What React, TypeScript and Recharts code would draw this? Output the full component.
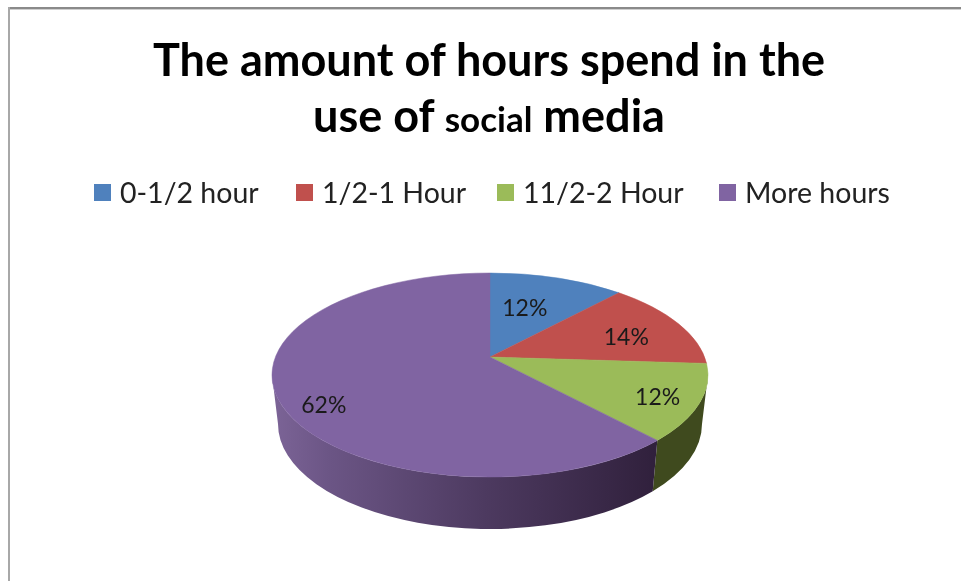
import { Legend, Pie, PieChart } from "recharts";

const categories = ["0-1/2 hour", "1/2-1 Hour", "11/2-2 Hour", "More hours"];
const shares = [12, 14, 12, 62];
const colors = ["#4f81bd", "#c0504d", "#9bbb59", "#8064a2"];
const wallColors = ["#2f4a6e", "#6f2e2c", "#3f4a1e", "url(#purpleWall)"];
// how far along the ray to the rim each label sits (x, y)
const labelReach = [
  [0.52, 0.63],
  [0.73, 0.6],
  [0.8, 0.85],
  [0.78, 1.18],
];
const legendLeft = [94, 296, 497, 719];

const data = categories.map((name, i) => ({
  name,
  value: shares[i],
  fill: colors[i],
}));

const FONT = "Lato, sans-serif";

// the tilted top face: the pie centre sits above the middle of the ellipse
const RIM_DROP = 18;
const RY_RATIO = 102 / 218;
const WALL = { drop: 67, ry: 105, rxShrink: 6 };

function rimAngle(deg: number) {
  const t = (deg * Math.PI) / 180;
  const ax = Math.sin(t);
  const ay = Math.cos(t);
  const a = RIM_DROP / (RY_RATIO * 218);
  const b = a * ay;
  const dist = -b + Math.sqrt(b * b + 1 - a * a);
  return Math.atan2(dist * ax, a + dist * ay);
}

function topPoint(p: any, phi: number) {
  const rx = p.outerRadius;
  const ry = rx * RY_RATIO;
  return [p.cx + rx * Math.sin(phi), p.cy + RIM_DROP - ry * Math.cos(phi)];
}

function botPoint(p: any, phi: number) {
  const rx = p.outerRadius - WALL.rxShrink;
  return [p.cx + rx * Math.sin(phi), p.cy + WALL.drop - WALL.ry * Math.cos(phi)];
}

function TopFace(p: any) {
  const a0 = 90 - p.startAngle;
  const a1 = 90 - p.endAngle;
  const [x0, y0] = topPoint(p, rimAngle(a0));
  const [x1, y1] = topPoint(p, rimAngle(a1));
  const rx = p.outerRadius;
  const ry = rx * RY_RATIO;
  const large = a1 - a0 > 180 ? 1 : 0;
  const d = `M${p.cx},${p.cy}L${x0},${y0}A${rx},${ry} 0 ${large} 1 ${x1},${y1}Z`;
  return <path d={d} fill={p.fill} stroke={p.fill} strokeWidth={0.5} />;
}

function SideWall(p: any) {
  const norm = (phi: number) => (phi < 0 ? phi + Math.PI * 2 : phi);
  const a0 = 90 - p.startAngle;
  const a1 = 90 - p.endAngle;
  const from = Math.max(norm(rimAngle(a0)), Math.PI / 2);
  let to = a1 >= 360 ? Math.PI * 2 : norm(rimAngle(a1));
  to = Math.min(to, (Math.PI * 3) / 2);
  if (to <= from) return null;
  const rx = p.outerRadius;
  const ry = rx * RY_RATIO;
  const [x0, y0] = topPoint(p, from);
  const [x1, y1] = topPoint(p, to);
  const [x2, y2] = botPoint(p, to);
  const [x3, y3] = botPoint(p, from);
  const d =
    `M${x0},${y0}A${rx},${ry} 0 0 1 ${x1},${y1}L${x2},${y2}` +
    `A${rx - WALL.rxShrink},${WALL.ry} 0 0 0 ${x3},${y3}Z`;
  return <path d={d} fill={wallColors[p.index]} />;
}

function SliceLabel(p: any) {
  const i = p.index;
  const phi = rimAngle(p.midAngle !== undefined ? 90 - p.midAngle : 0);
  const [rimX, rimY] = topPoint(p, phi);
  const x = p.cx + (rimX - p.cx) * labelReach[i][0];
  const y = p.cy + (rimY - p.cy) * labelReach[i][1];
  return (
    <text
      x={x}
      y={y}
      textAnchor="middle"
      dominantBaseline="central"
      fontFamily={FONT}
      fontSize={23}
      fill="#1a1a1a"
    >
      {`${p.value}%`}
    </text>
  );
}

function LegendRow({ payload }: any) {
  // both pies report their slices, so keep one entry per category
  const items = categories.map((name) =>
    (payload || []).find((item: any) => item.value === name)
  );
  return (
    <div style={{ position: "relative", width: 961, height: 40 }}>
      {items.map((item: any, i: number) =>
        item ? (
          <div key={item.value}>
            <span
              style={{
                position: "absolute",
                left: legendLeft[i],
                top: 3,
                width: 17,
                height: 17,
                background: colors[i],
              }}
            />
            <span
              style={{
                position: "absolute",
                left: legendLeft[i] + 26,
                top: -7,
                fontFamily: FONT,
                fontSize: 28.5,
                lineHeight: "36px",
                whiteSpace: "nowrap",
                color: "#222",
              }}
            >
              {item.value}
            </span>
          </div>
        ) : null
      )}
    </div>
  );
}

const titleLine = {
  position: "absolute",
  left: 0,
  width: 978,
  textAlign: "center",
  fontFamily: FONT,
  fontWeight: 700,
  fontSize: 45,
  lineHeight: "50px",
  color: "#000",
  whiteSpace: "nowrap",
} as const;

export default function App() {
  return (
    <div
      style={{
        position: "absolute",
        left: 0,
        top: 0,
        width: 961,
        height: 581,
        background: "#fff",
        overflow: "hidden",
        filter: "blur(0.5px)",
      }}
    >
      <div style={{ position: "absolute", left: 8, top: 7, right: 0, height: 2, background: "#8a8a8a" }} />
      <div style={{ position: "absolute", left: 8, top: 9, right: 0, height: 1, background: "#cfcfcf" }} />
      <div style={{ position: "absolute", left: 8, top: 7, bottom: 0, width: 2, background: "#a8a8a8" }} />

      <div style={{ ...titleLine, top: 34 }}>The amount of hours spend in the</div>
      <div style={{ ...titleLine, top: 90 }}>
        use of <span style={{ fontSize: 35 }}>social</span> media
      </div>

      <PieChart
        width={961}
        height={581}
        margin={{ top: 0, right: 0, bottom: 0, left: 0 }}
        style={{ position: "absolute", left: 0, top: 0 }}
      >
        <defs>
          <linearGradient id="purpleWall" x1="0" y1="0" x2="1" y2="0">
            <stop offset="0%" stopColor="#7c6497" />
            <stop offset="15%" stopColor="#6b5585" />
            <stop offset="55%" stopColor="#4d3a60" />
            <stop offset="100%" stopColor="#30203c" />
          </linearGradient>
        </defs>
        <Pie
          data={data}
          dataKey="value"
          nameKey="name"
          cx={490}
          cy={357}
          outerRadius={218}
          startAngle={90}
          endAngle={-270}
          stroke="none"
          legendType="none"
          shape={SideWall}
          isAnimationActive={false}
        />
        <Pie
          data={data}
          dataKey="value"
          nameKey="name"
          cx={490}
          cy={357}
          outerRadius={218}
          startAngle={90}
          endAngle={-270}
          stroke="none"
          shape={TopFace}
          label={SliceLabel}
          labelLine={false}
          isAnimationActive={false}
        />
        <Legend
          content={LegendRow}
          wrapperStyle={{ position: "absolute", left: 0, top: 181, width: 961 }}
        />
      </PieChart>
    </div>
  );
}
